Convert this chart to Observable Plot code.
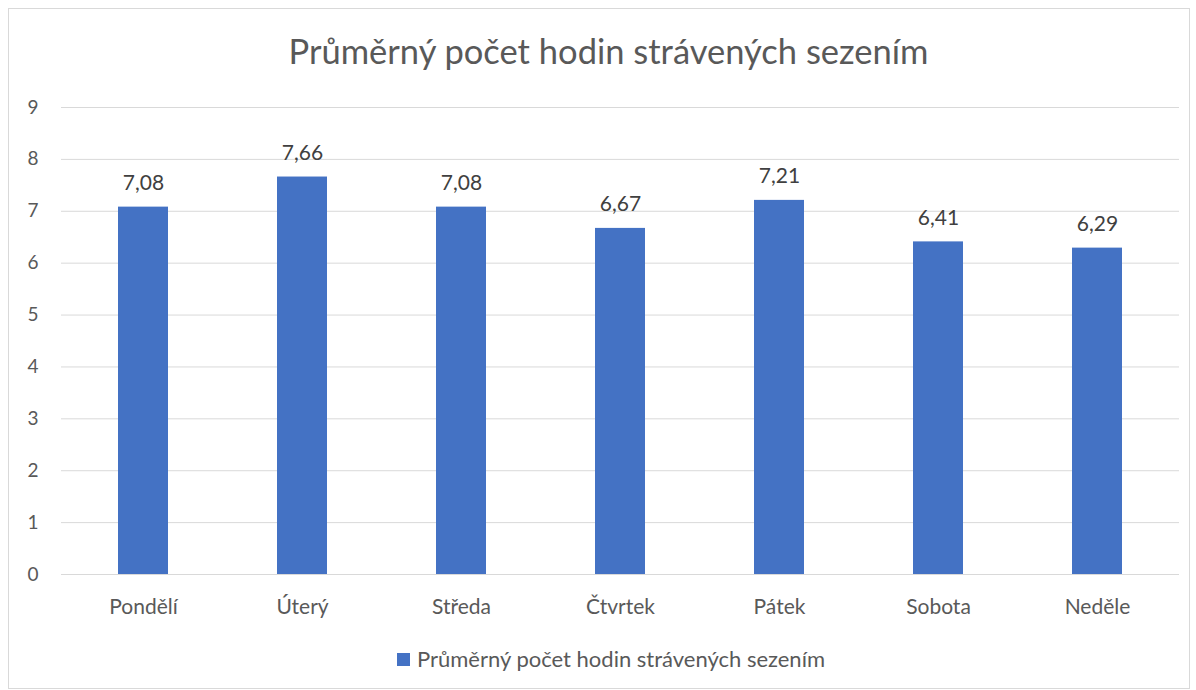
<!DOCTYPE html>
<html>
<head>
<meta charset="utf-8">
<script src="https://cdn.jsdelivr.net/npm/d3@7"></script>
<script src="https://cdn.jsdelivr.net/npm/@observablehq/plot@0.6"></script>
<style>
  html, body { margin: 0; padding: 0; background: #fff; }
  #chart {
    position: absolute; left: 8px; top: 8px; width: 1180px; height: 679px;
    border: 1px solid #d9d9d9; background: #fff; font-family: Lato, "Open Sans", sans-serif;
  }
  #title { position: absolute; left: 0; right: 0; top: 22px; text-align: center; font-size: 34.5px; color: #595959; line-height: 40px; padding-left: 19px; }
  #plot { position: absolute; left: 0; top: 62px; }
  #legend { position: absolute; left: 0; right: 0; top: 637px; text-align: center; font-size: 22px; color: #595959; line-height: 26px; padding-left: 24px; }
  #legend .sw { display: inline-block; width: 13px; height: 13px; background: #4472c4; margin-right: 7px; vertical-align: 1px; }
  #plot g[aria-label="x-axis tick label"] { font-size: 21px !important; }
  #plot g[aria-label="y-axis tick label"] { font-size: 19px !important; }
  #plot g[aria-label="text"] { font-size: 21px !important; }
</style>
</head>
<body>
<div id="chart">
  <div id="title"></div>
  <div id="plot"></div>
  <div id="legend"></div>
</div>
<script>
const title = "Průměrný počet hodin strávených sezením";
const seriesName = "Průměrný počet hodin strávených sezením";
const days = ["Pondělí", "Úterý", "Středa", "Čtvrtek", "Pátek", "Sobota", "Neděle"];
const hours = [7.08, 7.66, 7.08, 6.67, 7.21, 6.41, 6.29];
const yTicks = [0, 1, 2, 3, 4, 5, 6, 7, 8, 9];

const data = days.map((d, i) => ({day: d, value: hours[i]}));
const fmt = v => v.toFixed(2).replace(".", ",");

document.getElementById("title").textContent = title;
document.getElementById("legend").innerHTML = '<span class="sw"></span>' + seriesName;

const chart = Plot.plot({
  width: 1180,
  height: 549,
  marginLeft: 52,
  marginRight: 10,
  marginTop: 36,
  marginBottom: 46,
  style: {fontFamily: "Lato, 'Open Sans', sans-serif", fontSize: "18px", color: "#595959", background: "transparent"},
  x: {domain: days, paddingInner: 0.685, paddingOuter: 0.3425, label: null},
  y: {domain: [0, 9], ticks: yTicks, label: null},
  marks: [
    Plot.gridY(yTicks, {stroke: "#d9d9d9", strokeOpacity: 1, strokeWidth: 1}),
    Plot.barY(data, {x: "day", y: "value", fill: "#4472c4"}),
    Plot.ruleY([0], {stroke: "#d9d9d9", strokeWidth: 1}),
    Plot.text(data, {x: "day", y: "value", text: d => fmt(d.value), dy: -24, fill: "#404040", fontSize: 21}),
    Plot.axisY(yTicks, {tickSize: 0, tickPadding: 23, tickFormat: d3.format("d"), fontSize: 19, fill: "#595959"}),
    Plot.axisX(days, {tickSize: 0, tickPadding: 25, fontSize: 21, fill: "#595959"})
  ]
});
document.getElementById("plot").appendChild(chart);
</script>
</body>
</html>
